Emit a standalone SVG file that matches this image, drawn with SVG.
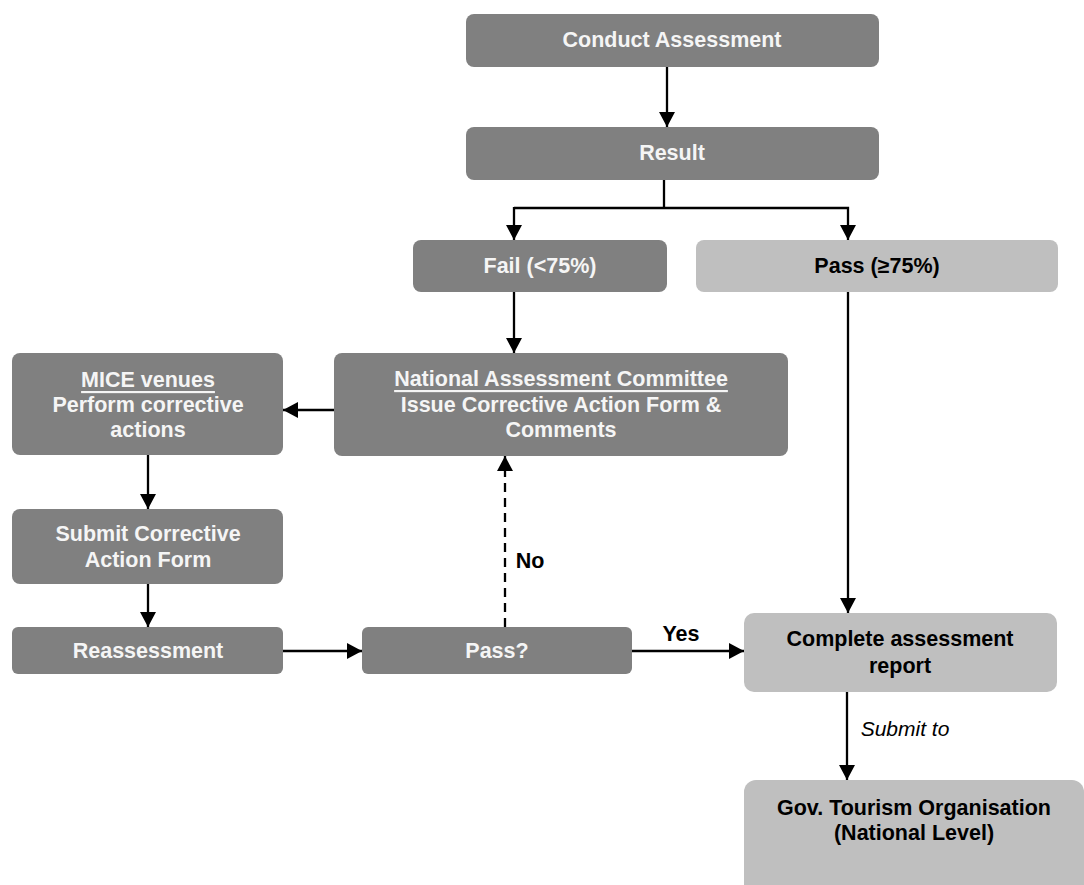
<svg xmlns="http://www.w3.org/2000/svg" width="1084" height="885" viewBox="0 0 1084 885">
<defs>
<marker id="ah" viewBox="0 0 15 16" refX="15" refY="8" markerWidth="15" markerHeight="16" orient="auto" markerUnits="userSpaceOnUse">
<path d="M0,0 L15,8 L0,16 z" fill="#000"/>
</marker>
<style>
.dk{fill:#808080}
.lt{fill:#bfbfbf}
text{font-family:"Liberation Sans",Arial,sans-serif;font-weight:bold;font-size:21.5px;text-anchor:middle;dominant-baseline:central}
.w{fill:#f5f5f5}
.b{fill:#000}
.u{text-decoration:underline}
.c{stroke:#000;stroke-width:2.3;fill:none}
</style>
</defs>
<rect width="1084" height="885" fill="#fff"/>
<g id="conduct"><rect class="dk" x="466" y="14" width="413" height="53" rx="8"/><text class="w" x="672" y="40">Conduct Assessment</text></g>
<g id="result"><rect class="dk" x="466" y="127" width="413" height="53" rx="8"/><text class="w" x="672" y="153">Result</text></g>
<g id="fail"><rect class="dk" x="413" y="240" width="254" height="52" rx="8"/><text class="w" x="540" y="266">Fail (&lt;75%)</text></g>
<g id="pass"><rect class="lt" x="696" y="240" width="362" height="52" rx="8"/><text class="b" x="877" y="266">Pass (≥75%)</text></g>
<g id="nac"><rect class="dk" x="334" y="353" width="454" height="103" rx="8"/><text class="w" x="561" y="379"><tspan class="u" x="561">National Assessment Committee</tspan><tspan x="561" dy="26">Issue Corrective Action Form &amp;</tspan><tspan x="561" dy="25">Comments</tspan></text></g>
<g id="mice"><rect class="dk" x="12" y="353" width="271" height="102" rx="8"/><text class="w" x="148" y="380"><tspan class="u" x="148">MICE venues</tspan><tspan x="148" dy="25">Perform corrective</tspan><tspan x="148" dy="25">actions</tspan></text></g>
<g id="submit"><rect class="dk" x="12" y="509" width="271" height="75" rx="8"/><text class="w" x="148" y="534"><tspan x="148">Submit Corrective</tspan><tspan x="148" dy="26">Action Form</tspan></text></g>
<g id="reassess"><rect class="dk" x="12" y="627" width="271" height="47" rx="6"/><text class="w" x="148" y="651">Reassessment</text></g>
<g id="passq"><rect class="dk" x="362" y="627" width="270" height="47" rx="6"/><text class="w" x="497" y="651">Pass?</text></g>
<g id="complete"><rect class="lt" x="744" y="613" width="313" height="79" rx="10"/><text class="b" x="900" y="639"><tspan x="900">Complete assessment</tspan><tspan x="900" dy="27">report</tspan></text></g>
<g id="gov"><rect class="lt" x="744" y="780" width="340" height="120" rx="12"/><text class="b" x="914" y="808"><tspan x="914">Gov. Tourism Organisation</tspan><tspan x="914" dy="25">(National Level)</tspan></text></g>
<g id="connectors">
<line class="c" x1="667" y1="67" x2="667" y2="127" marker-end="url(#ah)"/>
<line class="c" x1="664" y1="180" x2="664" y2="208"/>
<polyline class="c" points="514,208 848,208 848,240" marker-end="url(#ah)"/>
<line class="c" x1="514" y1="207" x2="514" y2="240" marker-end="url(#ah)"/>
<line class="c" x1="514" y1="292" x2="514" y2="353" marker-end="url(#ah)"/>
<line class="c" x1="334" y1="410" x2="283" y2="410" marker-end="url(#ah)"/>
<line class="c" x1="148" y1="455" x2="148" y2="509" marker-end="url(#ah)"/>
<line class="c" x1="148" y1="584" x2="148" y2="627" marker-end="url(#ah)"/>
<line class="c" x1="283" y1="651" x2="362" y2="651" marker-end="url(#ah)"/>
<line class="c" x1="632" y1="651" x2="744" y2="651" marker-end="url(#ah)"/>
<line class="c" x1="505" y1="627" x2="505" y2="456" stroke-dasharray="9,6" marker-end="url(#ah)"/>
<line class="c" x1="848" y1="292" x2="848" y2="613" marker-end="url(#ah)"/>
<line class="c" x1="847" y1="692" x2="847" y2="780" marker-end="url(#ah)"/>
<text class="b" x="530" y="561">No</text>
<text class="b" x="681" y="634">Yes</text>
<text class="b" x="905" y="728" style="font-style:italic;font-weight:normal;font-size:21px">Submit to</text>
</g>
</svg>
